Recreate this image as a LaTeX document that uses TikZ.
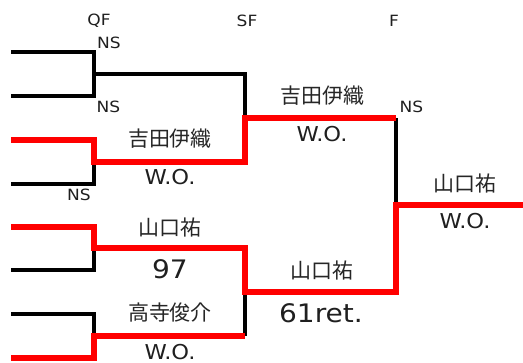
\documentclass[tikz,border=0pt]{standalone}
\usepackage{fontspec}
\setmainfont{DejaVu Sans}[FakeStretch=1.1]
\newfontfamily\jp{Noto Sans CJK JP}
\begin{document}
\begin{tikzpicture}[x=1pt,y=-1pt,
  loser/.style={line width=3.2pt, black, line join=miter},
  winner/.style={line width=5.4pt, red, line join=miter},
  rnd/.style={font=\fontsize{15.5}{16}\selectfont, inner sep=0pt, text=black!88},
  ns/.style={font=\fontsize{15.5}{16}\selectfont, inner sep=0pt, text=black!88},
  nm/.style={font=\jp\fontsize{21}{23}\selectfont, inner sep=0pt, text=black!85},
  sc/.style={font=\fontsize{20.5}{22}\selectfont, inner sep=0pt, text=black!88},
  bigsc/.style={font=\fontsize{25.5}{27}\selectfont, inner sep=0pt, text=black!88}]
\useasboundingbox (0,0) rectangle (523,363);
% entries
\coordinate (e1s) at (11,52);  \coordinate (e1) at (94,52);
\coordinate (e2s) at (11,96);  \coordinate (e2) at (94,96);
\coordinate (e3s) at (11,140); \coordinate (e3) at (94,140);
\coordinate (e4s) at (11,184); \coordinate (e4) at (94,184);
\coordinate (e5s) at (11,227); \coordinate (e5) at (94,227);
\coordinate (e6s) at (11,270); \coordinate (e6) at (94,270);
\coordinate (e7s) at (11,314); \coordinate (e7) at (94,314);
\coordinate (e8s) at (11,358); \coordinate (e8) at (94,358);
% QF outputs
\coordinate (q1) at (94,74);  \coordinate (q1e) at (245,74);
\coordinate (q2) at (94,162); \coordinate (q2e) at (245,162);
\coordinate (q3) at (94,248); \coordinate (q3e) at (245,248);
\coordinate (q4) at (94,336); \coordinate (q4e) at (245,336);
% SF outputs
\coordinate (s1) at (245,118); \coordinate (s1e) at (396,118);
\coordinate (s2) at (245,292); \coordinate (s2e) at (396,292);
% F output
\coordinate (f) at (396,205); \coordinate (fe) at (523,205);
% black lines
\draw[loser] (e1s) -- (e1) -- (e2) -- (e2s);
\draw[loser] (q1) -- (q1e) -- (s1);
\draw[loser] (e4s) -- (e4) -- (q2);
\draw[loser] (e6s) -- (e6) -- (q3);
\draw[loser] (e7s) -- (e7) -- (q4);
\draw[loser] (s2) -- (q4e);
\draw[loser] (s1e) -- (f);
% red lines
\draw[winner] (e3s) -- (e3) -- (q2) -- (q2e) -- (s1) -- (s1e);
\draw[winner] (e5s) -- (e5) -- (q3) -- (q3e) -- (s2) -- (s2e) -- (f) -- (fe);
\draw[winner] (e8s) -- (e8) -- (q4) -- (q4e);
% round headers
\node[rnd] (hqf) at (99,21) {QF};
\node[rnd] (hsf) at (247,21) {SF};
\node[rnd] (hf) at (394,21) {F};
% NS labels
\node[ns] (ns1) at (109,43) {NS};
\node[ns] (ns2) at (108.5,107) {NS};
\node[ns] (ns3) at (79,195) {NS};
\node[ns] (ns4) at (411.5,107) {NS};
% names and scores
\node[nm] (n1) at (170,139) {吉田伊織};
\node[sc] (r1) at (170,177.5) {W.O.};
\node[nm] (n2) at (170,228) {山口祐};
\node[bigsc] (r2) at (170,269) {97};
\node[nm] (n3) at (170,313) {高寺俊介};
\node[sc] (r3) at (170,352) {W.O.};
\node[nm] (n4) at (322,95.5) {吉田伊織};
\node[sc] (r4) at (322,134.5) {W.O.};
\node[nm] (n5) at (322,270.5) {山口祐};
\node[bigsc] (r5) at (321,313) {61ret.};
\node[nm] (n6) at (465,183.5) {山口祐};
\node[sc] (r6) at (465,221.5) {W.O.};
\end{tikzpicture}
\end{document}
